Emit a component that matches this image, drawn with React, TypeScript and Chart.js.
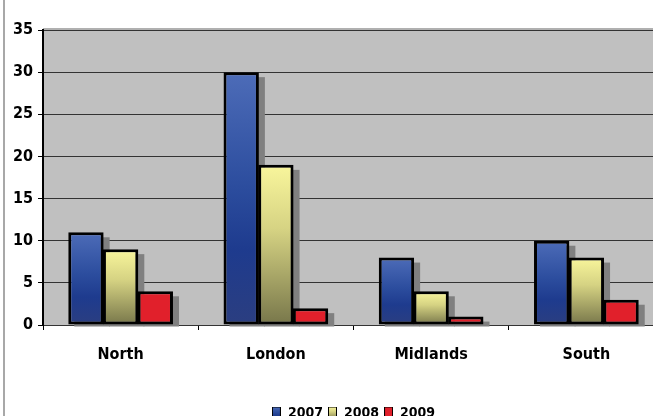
import React, { useEffect, useRef } from "react";
import { Chart, registerables } from "chart.js";

Chart.register(...registerables);

const categories = ["North", "London", "Midlands", "South"];
const seriesLabels = ["2007", "2008", "2009"];
const values2007 = [11, 30, 8, 10];
const values2008 = [9, 19, 4, 8];
const values2009 = [4, 2, 1, 3];
const yTicks = [0, 5, 10, 15, 20, 25, 30, 35];

const FONT = '"Liberation Sans Narrow", "DejaVu Sans Condensed", "Arial Narrow", sans-serif';

type Stops = [number, string][];
const blueStops: Stops = [
  [0, "#4d6cb8"],
  [0.45, "#2c4d9e"],
  [0.7, "#1e3b8e"],
  [1, "#2b3e80"],
];
const yellowStops: Stops = [
  [0, "#f9f69c"],
  [0.4, "#d6d383"],
  [1, "#77764a"],
];
const redStops: Stops = [
  [0, "#e1202b"],
  [1, "#e1202b"],
];
const allStops = [blueStops, yellowStops, redStops];

function makeGradientFill(stops: Stops) {
  return (c: any) => {
    const chart = c.chart;
    const y = chart.scales && chart.scales.y;
    if (!chart.chartArea || !y || !c.parsed) return stops[0][1];
    const top = y.getPixelForValue(c.parsed.y);
    const bottom = y.getPixelForValue(0);
    if (!isFinite(top) || !isFinite(bottom) || bottom - top < 1) return stops[0][1];
    const g = chart.ctx.createLinearGradient(0, top, 0, bottom);
    stops.forEach(([o, col]) => g.addColorStop(o, col));
    return g;
  };
}

function legendSwatch(stops: Stops) {
  const cv = document.createElement("canvas");
  cv.width = 9;
  cv.height = 13;
  const ctx = cv.getContext("2d")!;
  const g = ctx.createLinearGradient(0, 0, 0, 13);
  stops.forEach(([o, col]) => g.addColorStop(o, col));
  ctx.fillStyle = g;
  ctx.fillRect(0, 0, 9, 13);
  ctx.strokeStyle = "#000";
  ctx.lineWidth = 1;
  ctx.strokeRect(0.5, 0.5, 8, 12);
  return cv;
}

const backgroundPlugin = {
  id: "plotBackground",
  beforeDraw(chart: any) {
    const { ctx, chartArea } = chart;
    if (!chartArea) return;
    ctx.save();
    ctx.strokeStyle = "#a8a8a8";
    ctx.lineWidth = 2;
    ctx.beginPath();
    ctx.moveTo(4, 0);
    ctx.lineTo(4, chart.height);
    ctx.stroke();
    ctx.fillStyle = "#c0c0c0";
    ctx.fillRect(chartArea.left, chartArea.top, chartArea.right - chartArea.left, chartArea.bottom - chartArea.top);
    ctx.fillStyle = "#b0b0b0";
    ctx.fillRect(chartArea.left, chartArea.top - 2, chartArea.right - chartArea.left, 2);
    ctx.restore();
  },
};

const shadowPlugin = {
  id: "barShadows",
  beforeDatasetsDraw(chart: any) {
    const { ctx } = chart;
    ctx.save();
    ctx.fillStyle = "#808080";
    chart.data.datasets.forEach((_: any, di: number) => {
      const meta = chart.getDatasetMeta(di);
      meta.data.forEach((el: any) => {
        const left = el.x - el.width / 2 + 6;
        const top = el.y + 5;
        const bottom = el.base + 2;
        if (bottom > top) ctx.fillRect(left, top, el.width, bottom - top);
      });
    });
    ctx.restore();
  },
};

export default function App() {
  const ref = useRef<HTMLCanvasElement | null>(null);

  useEffect(() => {
    document.body.style.margin = "0";
    const canvas = ref.current!;
    const seriesValues = [values2007, values2008, values2009];
    const chart = new Chart(canvas, {
      type: "bar",
      data: {
        labels: categories,
        datasets: seriesLabels.map((label, i) => ({
          label,
          data: seriesValues[i],
          backgroundColor: makeGradientFill(allStops[i]),
          borderColor: "#000",
          borderWidth: 3,
          borderSkipped: false,
          categoryPercentage: 0.67,
          barPercentage: 1.02,
          pointStyle: legendSwatch(allStops[i]) as any,
        })),
      },
      options: {
        responsive: false,
        animation: false,
        layout: { padding: { top: 30, left: 0, right: 16, bottom: 0 } },
        plugins: {
          tooltip: { enabled: false },
          legend: {
            position: "bottom",
            fullSize: false,
            labels: {
              usePointStyle: true,
              color: "#000",
              padding: 5,
              boxWidth: 9,
              boxHeight: 13,
              font: { family: FONT, size: 14, weight: "bold" },
            },
          },
        },
        scales: {
          x: {
            grid: {
              offset: true,
              drawOnChartArea: false,
              drawTicks: true,
              tickLength: 5,
              tickColor: "#000",
            },
            border: { color: "#333", width: 1 },
            ticks: {
              color: "#000",
              padding: 15,
              font: { family: FONT, size: 16, weight: "bold" },
            },
            afterFit: (s: any) => {
              s.height = 76;
            },
          },
          y: {
            min: 0,
            max: 35,
            afterBuildTicks: (s: any) => {
              s.ticks = yTicks.map((v) => ({ value: v }));
            },
            grid: {
              color: "#333",
              lineWidth: 1,
              tickLength: 5,
              tickColor: "#000",
            },
            border: { color: "#000", width: 2 },
            ticks: {
              color: "#000",
              padding: 5,
              font: { family: FONT, size: 16, weight: "bold" },
            },
            afterFit: (s: any) => {
              s.width = 43;
            },
          },
        },
      },
      plugins: [backgroundPlugin, shadowPlugin],
    });
    return () => chart.destroy();
  }, []);

  return (
    <div style={{ width: 653, height: 416, overflow: "hidden", background: "#fff" }}>
      <canvas ref={ref} width={680} height={430} style={{ display: "block" }} />
    </div>
  );
}
